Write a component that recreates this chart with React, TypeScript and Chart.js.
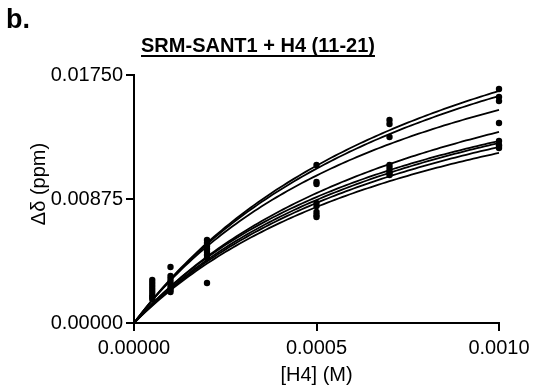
import React, { useEffect, useRef } from "react";
import { Chart, registerables } from "chart.js";

Chart.register(...registerables);

// Concentrations of H4 (11-21) titrated (M)
const concentrations = [0.00005, 0.0001, 0.0002, 0.0005, 0.0007, 0.001];

// Chemical shift perturbations (ppm) for each residue
const residue1 = [0.00303, 0.00395, 0.00586, 0.01115, 0.01432, 0.01651];
const residue2 = [0.00282, 0.00332, 0.00564, 0.00995, 0.01404, 0.01595];
const residue3 = [0.00261, 0.0031, 0.00543, 0.00981, 0.01312, 0.01566];
const residue4 = [0.0024, 0.00289, 0.00522, 0.00847, 0.01115, 0.01411];
const residue5 = [0.00219, 0.00268, 0.00501, 0.00826, 0.01094, 0.01284];
const residue6 = [0.00198, 0.00247, 0.0048, 0.00783, 0.01072, 0.01256];
const residue7 = [0.00183, 0.00233, 0.00459, 0.00762, 0.01058, 0.01235];
const residue8 = [0.00169, 0.00219, 0.00282, 0.00748, 0.01044, 0.01249];

// One-site binding fit parameters per residue (estimated from the drawn curves)
const fitBmax = [0.03117, 0.03026, 0.02709, 0.02546, 0.02314, 0.02366, 0.02326, 0.02248];
const fitKd = [0.000904, 0.000889, 0.000802, 0.000889, 0.000802, 0.000863, 0.000873, 0.000873];

const xTickValues = [0, 0.0005, 0.001];
const xTickLabels = ["0.00000", "0.0005", "0.0010"];
const yTickValues = [0, 0.00875, 0.0175];
const yTickLabels = ["0.00000", "0.00875", "0.01750"];

const panelLabel = "b.";
const chartTitle = "SRM-SANT1 + H4 (11-21)";
const xTitle = "[H4] (M)";
const yTitle = "Δδ (ppm)";

const residues = [residue1, residue2, residue3, residue4, residue5, residue6, residue7, residue8];

const FONT = "'Liberation Sans', Arial, Helvetica, sans-serif";

export default function App() {
  const canvasRef = useRef<HTMLCanvasElement | null>(null);

  useEffect(() => {
    if (!canvasRef.current) return;

    const fitX: number[] = [];
    for (let i = 0; i <= 100; i++) fitX.push((i / 100) * 0.001);

    const curveSets = fitBmax.map((bmax, k) => ({
      type: "line" as const,
      data: fitX.map((x) => ({ x, y: (bmax * x) / (fitKd[k] + x) })),
      borderColor: "#000",
      borderWidth: 1.8,
      pointRadius: 0,
      fill: false,
      clip: false as any,
    }));

    const pointSets = residues.map((vals) => ({
      type: "scatter" as const,
      data: concentrations.map((x, i) => ({ x, y: vals[i] })),
      backgroundColor: "#000",
      borderColor: "#000",
      pointRadius: 3.2,
      pointBorderWidth: 0,
      showLine: false,
      clip: false as any,
    }));

    const textPlugin = {
      id: "texts",
      afterDraw(chart: any) {
        const ctx = chart.ctx;
        const area = chart.chartArea;
        ctx.save();
        ctx.fillStyle = "#000";
        ctx.strokeStyle = "#000";
        // panel label
        ctx.font = `bold 27px ${FONT}`;
        ctx.textAlign = "left";
        ctx.textBaseline = "alphabetic";
        ctx.fillText(panelLabel, 6, 28);
        // title with underline
        ctx.font = `bold 20px ${FONT}`;
        ctx.textAlign = "center";
        const cx = 258;
        ctx.fillText(chartTitle, cx, 52);
        const w = ctx.measureText(chartTitle).width;
        ctx.lineWidth = 1.8;
        ctx.beginPath();
        ctx.moveTo(cx - w / 2, 56);
        ctx.lineTo(cx + w / 2, 56);
        ctx.stroke();
        // x title
        ctx.font = `20px ${FONT}`;
        ctx.textAlign = "center";
        ctx.fillText(xTitle, (area.left + area.right) / 2, 381);
        // y title
        ctx.translate(45, 184);
        ctx.rotate(-Math.PI / 2);
        ctx.textAlign = "center";
        ctx.fillText(yTitle, 0, 0);
        ctx.restore();
      },
    };

    const chart = new Chart(canvasRef.current, {
      type: "scatter",
      data: { datasets: [...curveSets, ...pointSets] as any },
      options: {
        animation: false,
        responsive: false,
        maintainAspectRatio: false,
        layout: { padding: { top: 75, right: 44, left: 0, bottom: 0 } },
        plugins: {
          legend: { display: false },
          tooltip: { enabled: false },
          title: { display: false },
        },
        scales: {
          x: {
            type: "linear",
            min: 0,
            max: 0.001,
            afterFit: (s: any) => {
              s.height = 64;
            },
            afterBuildTicks: (s: any) => {
              s.ticks = xTickValues.map((v) => ({ value: v }));
            },
            ticks: {
              color: "#000",
              font: { family: FONT, size: 20 },
              padding: 5,
              maxRotation: 0,
              autoSkip: false,
              callback: (v: any) => {
                const i = xTickValues.findIndex((t) => Math.abs(t - Number(v)) < 1e-9);
                return i >= 0 ? xTickLabels[i] : "";
              },
            },
            grid: {
              display: true,
              drawOnChartArea: false,
              drawTicks: true,
              tickLength: 8,
              color: "#000",
              lineWidth: 2,
            },
            border: { display: true, color: "#000", width: 2 },
          },
          y: {
            type: "linear",
            min: 0,
            max: 0.0175,
            afterFit: (s: any) => {
              s.width = 134;
            },
            afterBuildTicks: (s: any) => {
              s.ticks = yTickValues.map((v) => ({ value: v }));
            },
            ticks: {
              color: "#000",
              font: { family: FONT, size: 20 },
              padding: 3,
              autoSkip: false,
              callback: (v: any) => {
                const i = yTickValues.findIndex((t) => Math.abs(t - Number(v)) < 1e-9);
                return i >= 0 ? yTickLabels[i] : "";
              },
            },
            grid: {
              display: true,
              drawOnChartArea: false,
              drawTicks: true,
              tickLength: 8,
              color: "#000",
              lineWidth: 2,
            },
            border: { display: true, color: "#000", width: 2 },
          },
        },
      },
      plugins: [textPlugin],
    });

    return () => chart.destroy();
  }, []);

  return (
    <div style={{ position: "fixed", left: 0, top: 0, width: 543, height: 387, background: "#fff" }}>
      <canvas ref={canvasRef} width={543} height={387} style={{ width: 543, height: 387 }} />
    </div>
  );
}
